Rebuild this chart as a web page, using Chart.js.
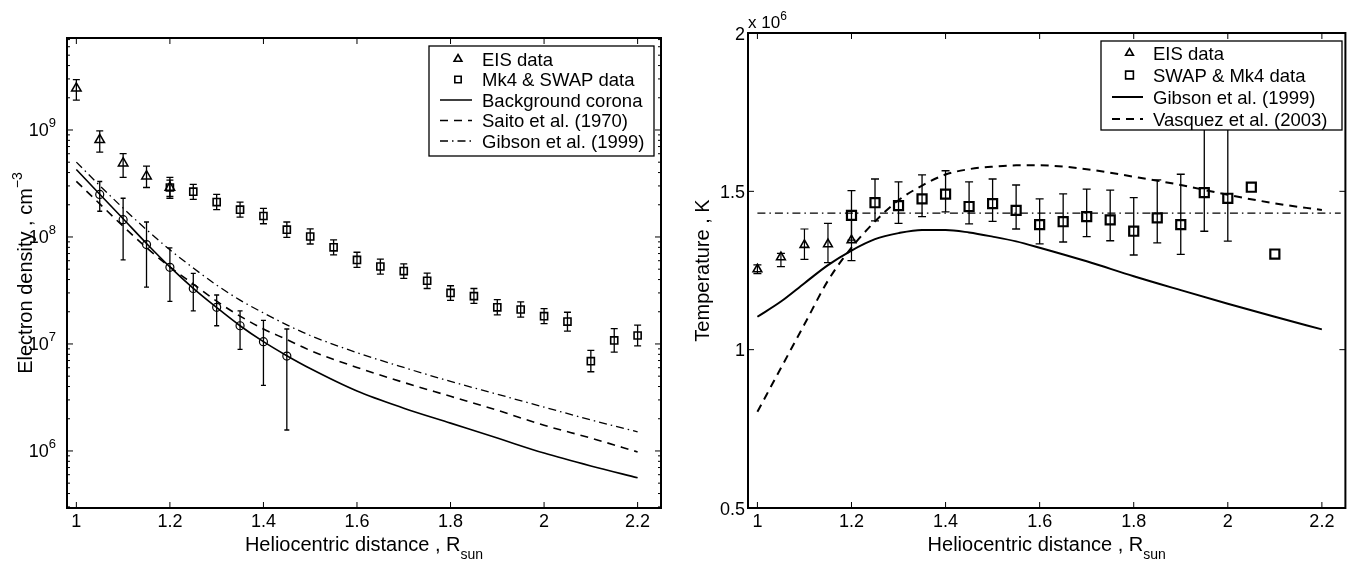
<!DOCTYPE html>
<html>
<head>
<meta charset="utf-8">
<script src="https://cdn.jsdelivr.net/npm/chart.js@4.4.1/dist/chart.umd.min.js"></script>
<style>
  body { margin: 0; background: #fff; }
  #wrap { position: relative; width: 1354px; height: 565px; }
  canvas { position: absolute; top: 0; }
  #density { left: 0; }
  #temperature { left: 677px; }
</style>
</head>
<body>
<div id="wrap">
  <canvas id="density" width="677" height="565"></canvas>
  <canvas id="temperature" width="677" height="565"></canvas>
</div>
<script>
// ---------- shared axis ----------
const rTicks = [1, 1.2, 1.4, 1.6, 1.8, 2, 2.2];
const rTickLabels = ['1', '1.2', '1.4', '1.6', '1.8', '2', '2.2'];

// ---------- electron density (cm^-3) ----------
const neDecades = [6, 7, 8, 9];

const eisR = [1.0, 1.05, 1.1, 1.15, 1.2];
const eisNe = [2.45e9, 8.1e8, 4.9e8, 3.7e8, 2.9e8];
const eisNeLo = [1.9e9, 6.2e8, 3.6e8, 2.9e8, 2.3e8];
const eisNeHi = [2.95e9, 9.8e8, 6.0e8, 4.6e8, 3.6e8];

const mk4R = [1.2, 1.25, 1.3, 1.35, 1.4, 1.45, 1.5, 1.55, 1.6, 1.65, 1.7,
              1.75, 1.8, 1.85, 1.9, 1.95, 2.0, 2.05, 2.1, 2.15, 2.2];
const mk4Ne = [2.9e8, 2.65e8, 2.12e8, 1.8e8, 1.57e8, 1.17e8, 1.01e8, 8.0e7, 6.1e7, 5.3e7, 4.8e7,
               3.9e7, 3.0e7, 2.8e7, 2.2e7, 2.1e7, 1.82e7, 1.62e7, 6.9e6, 1.08e7, 1.2e7];
const mk4NeLo = [2.4e8, 2.25e8, 1.8e8, 1.53e8, 1.33e8, 9.9e7, 8.6e7, 6.8e7, 5.2e7, 4.5e7, 4.1e7,
                 3.3e7, 2.55e7, 2.4e7, 1.87e7, 1.78e7, 1.55e7, 1.32e7, 5.5e6, 8.4e6, 9.6e6];
const mk4NeHi = [3.4e8, 3.1e8, 2.5e8, 2.12e8, 1.85e8, 1.38e8, 1.19e8, 9.4e7, 7.2e7, 6.2e7, 5.6e7,
                 4.6e7, 3.5e7, 3.3e7, 2.6e7, 2.47e7, 2.14e7, 1.98e7, 8.7e6, 1.39e7, 1.5e7];

const bgR = [1.05, 1.1, 1.15, 1.2, 1.25, 1.3, 1.35, 1.4, 1.45];
const bgNe = [2.5e8, 1.45e8, 8.5e7, 5.2e7, 3.3e7, 2.2e7, 1.48e7, 1.05e7, 7.7e6];
const bgNeLo = [1.74e8, 6.1e7, 3.4e7, 2.5e7, 2.04e7, 1.48e7, 8.9e6, 4.1e6, 1.57e6];
const bgNeHi = [3.3e8, 2.3e8, 1.38e8, 7.9e7, 4.57e7, 2.87e7, 2.04e7, 1.66e7, 1.38e7];

const modelR = [1.0, 1.05, 1.1, 1.15, 1.2, 1.25, 1.3, 1.35, 1.4, 1.45, 1.5,
                1.6, 1.7, 1.8, 1.9, 2.0, 2.1, 2.2];
const coronaNe = [4.27e8, 2.51e8, 1.48e8, 8.7e7, 5.25e7, 3.31e7, 2.19e7, 1.48e7, 1.05e7, 7.76e6, 5.89e6,
                  3.63e6, 2.51e6, 1.82e6, 1.32e6, 9.55e5, 7.24e5, 5.62e5];
const saitoNe = [3.31e8, 2.04e8, 1.26e8, 7.94e7, 5.25e7, 3.63e7, 2.51e7, 1.82e7, 1.38e7, 1.10e7, 8.7e6,
                 6.03e6, 4.37e6, 3.24e6, 2.40e6, 1.74e6, 1.32e6, 9.8e5];
const gibsonNe = [5.01e8, 3.02e8, 1.86e8, 1.17e8, 7.59e7, 5.13e7, 3.55e7, 2.57e7, 1.95e7, 1.51e7, 1.20e7,
                  8.3e6, 6.03e6, 4.47e6, 3.39e6, 2.57e6, 1.95e6, 1.51e6];

// ---------- temperature (10^6 K) ----------
const teTicks = [0.5, 1, 1.5, 2];
const teTickLabels = ['0.5', '1', '1.5', '2'];

const eisTe = [1.254, 1.292, 1.331, 1.333, 1.346];
const eisTeLo = [1.240, 1.262, 1.285, 1.275, 1.281];
const eisTeHi = [1.268, 1.304, 1.381, 1.399, 1.410];

const swapR = [1.2, 1.25, 1.3, 1.35, 1.4, 1.45, 1.5, 1.55, 1.6, 1.65,
               1.7, 1.75, 1.8, 1.85, 1.9, 1.95, 2.0, 2.05, 2.1];
const swapTe = [1.424, 1.464, 1.455, 1.476, 1.491, 1.452, 1.461, 1.440, 1.395, 1.404,
                1.420, 1.410, 1.374, 1.416, 1.395, 1.496, 1.478, 1.513, 1.302];
const swapTeLo = [1.346, 1.407, 1.399, 1.420, 1.435, 1.397, 1.405, 1.381, 1.334, 1.340,
                  1.357, 1.344, 1.299, 1.337, 1.301, 1.374, 1.343, null, null];
const swapTeHi = [1.502, 1.539, 1.530, 1.552, 1.565, 1.530, 1.539, 1.520, 1.476, 1.492,
                  1.507, 1.504, 1.480, 1.536, 1.554, 1.800, 1.820, null, null];

const modelTR = [1.0, 1.05, 1.1, 1.15, 1.2, 1.25, 1.3, 1.35, 1.4, 1.45, 1.5,
                 1.55, 1.6, 1.7, 1.8, 1.9, 2.0, 2.1, 2.2];
const gibsonTe = [1.104, 1.152, 1.210, 1.267, 1.313, 1.349, 1.368, 1.378, 1.378, 1.370, 1.357,
                  1.342, 1.322, 1.279, 1.232, 1.188, 1.145, 1.104, 1.064];
const vasquezTe = [0.804, 0.942, 1.080, 1.218, 1.322, 1.405, 1.472, 1.518, 1.553, 1.570, 1.578,
                   1.582, 1.582, 1.570, 1.546, 1.520, 1.489, 1.462, 1.441];
const flatR = [1.0, 2.24];
const flatTe = [1.431, 1.431];

// ---------- helpers ----------
const FONT = '"Liberation Sans", Arial, Helvetica, sans-serif';

const pts = (xs, ys) => xs.map((x, i) => ({ x, y: ys[i] }));

// draw a run of text pieces, some raised or lowered
function richText(ctx, parts, x, y, align, size) {
  let total = 0;
  const items = parts.map(([t, mode]) => {
    const fs = mode ? Math.round(size * 0.72) : size;
    ctx.font = fs + 'px ' + FONT;
    const w = ctx.measureText(t).width;
    total += w;
    return { t, mode, fs, w };
  });
  let cx = align === 'center' ? x - total / 2 : align === 'right' ? x - total : x;
  ctx.textAlign = 'left';
  ctx.textBaseline = 'alphabetic';
  items.forEach(it => {
    ctx.font = it.fs + 'px ' + FONT;
    const dy = it.mode === 'sup' ? -size * 0.5 : it.mode === 'sub' ? size * 0.42 : 0;
    ctx.fillText(it.t, cx, y + dy);
    cx += it.w;
  });
}

function marker(ctx, style, x, y, r, lw) {
  ctx.save();
  ctx.lineWidth = lw;
  ctx.strokeStyle = '#000';
  ctx.beginPath();
  if (style === 'triangle') {
    for (let k = 0; k < 3; k++) {
      const a = k * 2 * Math.PI / 3;
      const px = x + Math.sin(a) * r, py = y - Math.cos(a) * r;
      k ? ctx.lineTo(px, py) : ctx.moveTo(px, py);
    }
    ctx.closePath();
  } else if (style === 'rect') {
    const s = r * Math.SQRT1_2;
    ctx.rect(x - s, y - s, 2 * s, 2 * s);
  }
  ctx.stroke();
  ctx.restore();
}

// vertical error bars from each dataset's errLo / errHi arrays
const errorBars = {
  id: 'errorBars',
  afterDatasetsDraw(chart) {
    const { ctx, scales: { x, y } } = chart;
    ctx.save();
    ctx.strokeStyle = '#000';
    chart.data.datasets.forEach(ds => {
      if (!ds.errLo) return;
      ctx.lineWidth = ds.errWidth || 1.2;
      ds.data.forEach((p, i) => {
        const lo = ds.errLo[i], hi = ds.errHi[i];
        if (lo == null || hi == null) return;
        const px = x.getPixelForValue(p.x);
        const y0 = y.getPixelForValue(lo), y1 = y.getPixelForValue(hi);
        const c = ds.capHalf;
        ctx.beginPath();
        ctx.moveTo(px, y0); ctx.lineTo(px, y1);
        ctx.moveTo(px - c, y0); ctx.lineTo(px + c, y0);
        ctx.moveTo(px - c, y1); ctx.lineTo(px + c, y1);
        ctx.stroke();
      });
    });
    ctx.restore();
  }
};

// box, inward ticks, tick labels and axis titles
function framePlugin(cfg) {
  return {
    id: 'frame',
    afterDraw(chart) {
      const { ctx, chartArea: a, scales: { x, y } } = chart;
      ctx.save();
      ctx.strokeStyle = '#000';
      ctx.fillStyle = '#000';
      ctx.lineWidth = 1;
      const seg = (x0, y0, x1, y1) => { ctx.beginPath(); ctx.moveTo(x0, y0); ctx.lineTo(x1, y1); ctx.stroke(); };
      const inside = py => py >= a.top && py <= a.bottom;

      rTicks.forEach((v, i) => {
        const px = x.getPixelForValue(v);
        seg(px, a.bottom, px, a.bottom - 6);
        seg(px, a.top, px, a.top + 6);
        richText(ctx, [[rTickLabels[i]]], px, a.bottom + 19, 'center', 18);
      });
      cfg.yMajor.forEach(v => {
        const py = y.getPixelForValue(v);
        seg(a.left, py, a.left + 6, py);
        seg(a.right, py, a.right - 6, py);
      });
      (cfg.yMinor || []).forEach(v => {
        const py = y.getPixelForValue(v);
        if (!inside(py)) return;
        seg(a.left, py, a.left + 3, py);
        seg(a.right, py, a.right - 3, py);
      });
      cfg.yLabels.forEach(([v, parts]) => {
        richText(ctx, parts, a.left - cfg.yLabelGap, y.getPixelForValue(v) + 6.5, 'right', 18);
      });

      ctx.lineWidth = 2;
      ctx.strokeRect(a.left, a.top, a.right - a.left, a.bottom - a.top);

      richText(ctx, [['Heliocentric distance , R'], ['sun', 'sub']], (a.left + a.right) / 2, a.bottom + 43, 'center', 20);

      ctx.save();
      ctx.translate(cfg.yTitleX, (a.top + a.bottom) / 2);
      ctx.rotate(-Math.PI / 2);
      richText(ctx, cfg.yTitle, 0, 0, 'center', 20);
      ctx.restore();

      if (cfg.extra) cfg.extra(ctx, a);
      ctx.restore();
    }
  };
}

// boxed legend drawn over the plot
function legendPlugin(cfg) {
  return {
    id: 'legendBox',
    afterDraw(chart) {
      const ctx = chart.ctx;
      const [x0, y0, x1, y1] = cfg.box;
      ctx.save();
      ctx.fillStyle = '#fff';
      ctx.fillRect(x0, y0, x1 - x0, y1 - y0);
      ctx.strokeStyle = '#000';
      ctx.lineWidth = 1.3;
      ctx.strokeRect(x0, y0, x1 - x0, y1 - y0);
      cfg.rows.forEach((row, i) => {
        const ry = cfg.firstRow + i * cfg.rowStep;
        if (row.marker) {
          marker(ctx, row.marker, cfg.sample[0] + (cfg.sample[1] - cfg.sample[0]) / 2 + 2, ry, row.r, 1.6);
        } else {
          ctx.lineWidth = row.lw;
          ctx.setLineDash(row.dash);
          ctx.beginPath();
          ctx.moveTo(cfg.sample[0], ry);
          ctx.lineTo(cfg.sample[1], ry);
          ctx.stroke();
          ctx.setLineDash([]);
        }
        ctx.fillStyle = '#000';
        richText(ctx, [[row.label]], cfg.textX, ry + 6.5, 'left', 18.5);
      });
      ctx.restore();
    }
  };
}

const curve = (xs, ys, dash, lw) => ({
  data: pts(xs, ys), showLine: true, pointRadius: 0, borderColor: '#000',
  borderWidth: lw, borderDash: dash, fill: false,
  cubicInterpolationMode: 'monotone'
});
const markers = (xs, ys, lo, hi, style, r, lw, capHalf, errWidth) => ({
  data: pts(xs, ys), showLine: false, pointStyle: style, pointRadius: r,
  pointBorderWidth: lw, pointBorderColor: '#000', pointBackgroundColor: 'rgba(0,0,0,0)',
  errLo: lo, errHi: hi, capHalf, errWidth
});

const baseOptions = (padding, xRange, yScale) => ({
  responsive: false,
  animation: false,
  layout: { padding },
  plugins: { legend: { display: false }, tooltip: { enabled: false } },
  scales: {
    x: { type: 'linear', display: false, min: xRange[0], max: xRange[1] },
    y: yScale
  }
});

// ---------- left panel: density ----------
const neMinor = [];
for (let d = 5; d <= 9; d++) for (let m = 2; m <= 9; m++) neMinor.push(m * Math.pow(10, d));

new Chart(document.getElementById('density'), {
  type: 'scatter',
  data: {
    datasets: [
      curve(modelR, coronaNe, [], 1.6),
      curve(modelR, saitoNe, [8, 6], 1.6),
      curve(modelR, gibsonNe, [8, 4, 1.5, 4], 1.3),
      markers(eisR, eisNe, eisNeLo, eisNeHi, 'triangle', 5.5, 1.5, 3.5, 1.3),
      markers(mk4R, mk4Ne, mk4NeLo, mk4NeHi, 'rect', 5, 1.6, 3.5, 1.3),
      markers(bgR, bgNe, bgNeLo, bgNeHi, 'circle', 4, 1.2, 2.5, 1.3)
    ]
  },
  options: baseOptions({ left: 67, right: 16, top: 38, bottom: 57 }, [0.98, 2.25],
    { type: 'logarithmic', display: false, min: 2.93e5, max: 7.24e9 }),
  plugins: [
    errorBars,
    framePlugin({
      yMajor: neDecades.map(d => Math.pow(10, d)),
      yMinor: neMinor,
      yLabels: neDecades.map(d => [Math.pow(10, d), [['10'], [String(d), 'sup']]]),
      yLabelGap: 11,
      yTitleX: 32,
      yTitle: [['Electron density , cm'], ['\u22123', 'sup']]
    }),
    legendPlugin({
      box: [429, 46, 654, 156],
      firstRow: 59, rowStep: 20.5,
      sample: [440, 472], textX: 482,
      rows: [
        { label: 'EIS data', marker: 'triangle', r: 4.5 },
        { label: 'Mk4 & SWAP data', marker: 'rect', r: 4.5 },
        { label: 'Background corona', dash: [], lw: 1.5 },
        { label: 'Saito et al. (1970)', dash: [8, 6], lw: 1.5 },
        { label: 'Gibson et al. (1999)', dash: [8, 4, 1.5, 4], lw: 1.3 }
      ]
    })
  ]
});

// ---------- right panel: temperature ----------
new Chart(document.getElementById('temperature'), {
  type: 'scatter',
  data: {
    datasets: [
      curve(modelTR, gibsonTe, [], 2),
      curve(modelTR, vasquezTe, [8, 6], 2),
      curve(flatR, flatTe, [8, 4, 1.5, 4], 1.2),
      markers(eisR, eisTe, eisTeLo, eisTeHi, 'triangle', 5, 1.6, 4, 1.2),
      markers(swapR, swapTe, swapTeLo, swapTeHi, 'rect', 6.4, 2.2, 4, 1.3)
    ]
  },
  options: baseOptions({ left: 71, right: 6, top: 33, bottom: 57 }, [0.98, 2.25],
    { type: 'linear', display: false, min: 0.5, max: 2 }),
  plugins: [
    errorBars,
    framePlugin({
      yMajor: teTicks,
      yLabels: teTicks.map((v, i) => [v, [[teTickLabels[i]]]]),
      yLabelGap: 3,
      yTitleX: 32,
      yTitle: [['Temperature , K']],
      extra: (ctx, a) => richText(ctx, [['x 10'], ['6', 'sup']], a.left, a.top - 5, 'left', 17)
    }),
    legendPlugin({
      box: [1101 - 677, 41, 1342 - 677, 130],
      firstRow: 53, rowStep: 22,
      sample: [1112 - 677, 1143 - 677], textX: 1153 - 677,
      rows: [
        { label: 'EIS data', marker: 'triangle', r: 4.5 },
        { label: 'SWAP & Mk4 data', marker: 'rect', r: 5.5 },
        { label: 'Gibson et al. (1999)', dash: [], lw: 2 },
        { label: 'Vasquez et al. (2003)', dash: [8, 6], lw: 2 }
      ]
    })
  ]
});
</script>
</body>
</html>
